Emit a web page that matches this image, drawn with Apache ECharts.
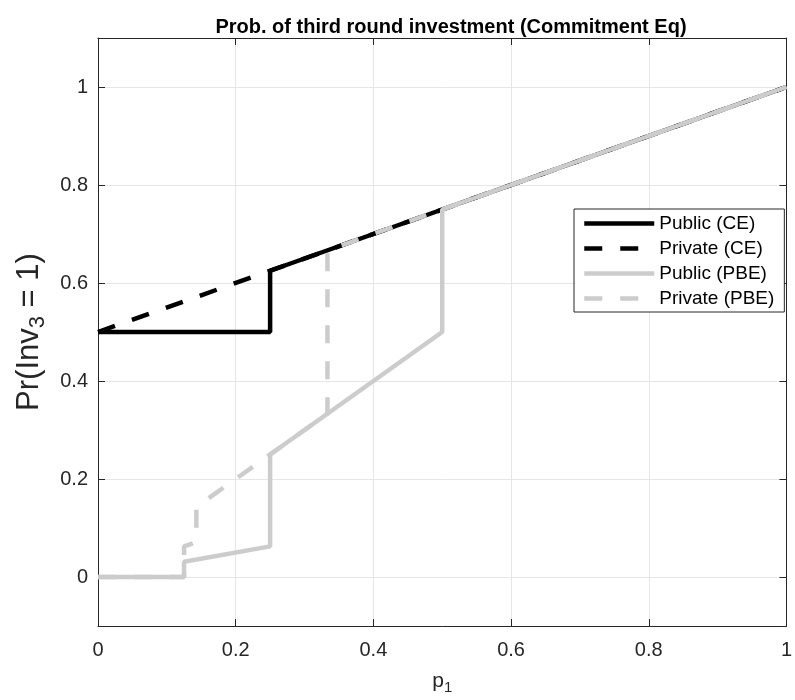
<!DOCTYPE html>
<html>
<head>
<meta charset="utf-8">
<script src="https://cdn.jsdelivr.net/npm/echarts@6/dist/echarts.min.js"></script>
<style>
html,body{margin:0;padding:0;background:#fff;}
#chart{width:795px;height:700px;}
</style>
</head>
<body>
<div id="chart"></div>
<script>
// ---- data ----
const seriesNames = ['Public (CE)', 'Private (CE)', 'Public (PBE)', 'Private (PBE)'];
const publicCE_x = [0, 0.25, 0.25, 1];
const publicCE_y = [0.5, 0.5, 0.625, 1];
const privateCE_x = [0, 1];
const privateCE_y = [0.5, 1];
const publicPBE_x = [0, 0.125, 0.125, 0.25, 0.25, 0.5, 0.5, 1];
const publicPBE_y = [0, 0, 0.03125, 0.0625, 0.25, 0.5, 0.75, 1];
const privatePBE_x = [0, 0.125, 0.125, 0.1429, 0.1429, 0.3333, 0.3333, 1];
const privatePBE_y = [0, 0, 0.0625, 0.0714, 0.1429, 0.3333, 0.6667, 1];
const xTickValues = [0, 0.2, 0.4, 0.6, 0.8, 1];
const yTickValues = [0, 0.2, 0.4, 0.6, 0.8, 1];

const titleText = 'Prob. of third round investment (Commitment Eq)';

function zip(xs, ys) { return xs.map((x, i) => [x, ys[i]]); }

const FONT = 'Liberation Sans, Arial, Helvetica, sans-serif';
const AX = '#262626';
const GRAY = '#cccccc';
const DASH = [18, 18];
const LW = 4.5;
const NOSYM = 'rgba(0,0,0,0)';

function fmtTick(list) {
  return function (v) {
    for (const t of list) { if (Math.abs(v - t) < 1e-6) return String(t); }
    return '';
  };
}

const chart = echarts.init(document.getElementById('chart'), null, {renderer: 'canvas'});
const option = {
  animation: false,
  backgroundColor: '#ffffff',
  title: {
    text: titleText,
    left: 446,
    textAlign: 'center',
    top: 12,
    textStyle: {fontFamily: FONT, fontWeight: 'bold', fontSize: 20, color: '#000'}
  },
  grid: {left: 98, right: 1, top: 38, bottom: 67, containLabel: false},
  legend: {
    orient: 'vertical',
    left: 574,
    top: 209,
    padding: [5, 10, 4, 8],
    backgroundColor: '#fff',
    borderColor: AX,
    borderWidth: 1,
    borderRadius: 0,
    itemWidth: 70,
    itemHeight: 18,
    itemGap: 6,
    lineStyle: {width: LW},
    textStyle: {fontFamily: FONT, fontSize: 19, color: '#000'},
    data: seriesNames
  },
  xAxis: [{
    type: 'value', position: 'bottom', min: 0, max: 1, interval: 0.2,
    axisLine: {show: true, onZero: false, lineStyle: {color: AX, width: 1}},
    axisTick: {show: true, inside: true, length: 7, lineStyle: {color: AX}},
    axisLabel: {margin: 14, fontFamily: FONT, fontSize: 20, color: AX, formatter: fmtTick(xTickValues)},
    splitLine: {show: true, lineStyle: {color: '#e6e6e6', width: 1}},
    name: '{a|p}{b|1}',
    nameLocation: 'middle',
    nameGap: 42,
    nameTextStyle: {
      rich: {
        a: {fontFamily: FONT, fontSize: 21, color: AX},
        b: {fontFamily: FONT, fontSize: 15, color: AX, padding: [12, 0, 0, 0]}
      }
    }
  }, {
    type: 'value', position: 'top', min: 0, max: 1, interval: 0.2,
    axisLine: {show: true, onZero: false, lineStyle: {color: AX, width: 1}},
    axisTick: {show: true, inside: true, length: 7, lineStyle: {color: AX}},
    axisLabel: {show: false},
    splitLine: {show: false}
  }],
  yAxis: [{
    type: 'value', position: 'left', min: -0.1, max: 1.1, splitNumber: 6,
    axisLine: {show: true, onZero: false, lineStyle: {color: AX, width: 1}},
    axisTick: {show: true, inside: true, length: 7, lineStyle: {color: AX}},
    axisLabel: {margin: 10, fontFamily: FONT, fontSize: 20, color: AX, formatter: fmtTick(yTickValues)},
    splitLine: {show: true, lineStyle: {color: '#e6e6e6', width: 1}},
    name: '{a|Pr(Inv}{b|3}{a| = 1)}',
    nameLocation: 'middle',
    nameRotate: 90,
    nameGap: 46,
    nameTextStyle: {
      rich: {
        a: {fontFamily: FONT, fontSize: 31, color: AX},
        b: {fontFamily: FONT, fontSize: 22, color: AX, padding: [18, 0, 0, 0]}
      }
    }
  }, {
    type: 'value', position: 'right', min: -0.1, max: 1.1, splitNumber: 6,
    axisLine: {show: true, onZero: false, lineStyle: {color: AX, width: 1}},
    axisTick: {show: true, inside: true, length: 7, lineStyle: {color: AX}},
    axisLabel: {show: false},
    splitLine: {show: false}
  }],
  series: [
    {name: seriesNames[0], type: 'line', data: zip(publicCE_x, publicCE_y), showSymbol: false, symbol: 'none',
     lineStyle: {color: '#000', width: LW, type: 'solid'}, itemStyle: {color: NOSYM, borderWidth: 0}},
    {name: seriesNames[1], type: 'line', data: zip(privateCE_x, privateCE_y), showSymbol: false, symbol: 'none',
     lineStyle: {color: '#000', width: LW, type: DASH}, itemStyle: {color: NOSYM, borderWidth: 0}},
    {name: seriesNames[2], type: 'line', data: zip(publicPBE_x, publicPBE_y), showSymbol: false, symbol: 'none',
     lineStyle: {color: GRAY, width: LW, type: 'solid'}, itemStyle: {color: NOSYM, borderWidth: 0}},
    {name: seriesNames[3], type: 'line', data: zip(privatePBE_x, privatePBE_y), showSymbol: false, symbol: 'none',
     lineStyle: {color: GRAY, width: LW, type: DASH}, itemStyle: {color: NOSYM, borderWidth: 0}}
  ]
};
chart.setOption(option);
</script>
</body>
</html>
